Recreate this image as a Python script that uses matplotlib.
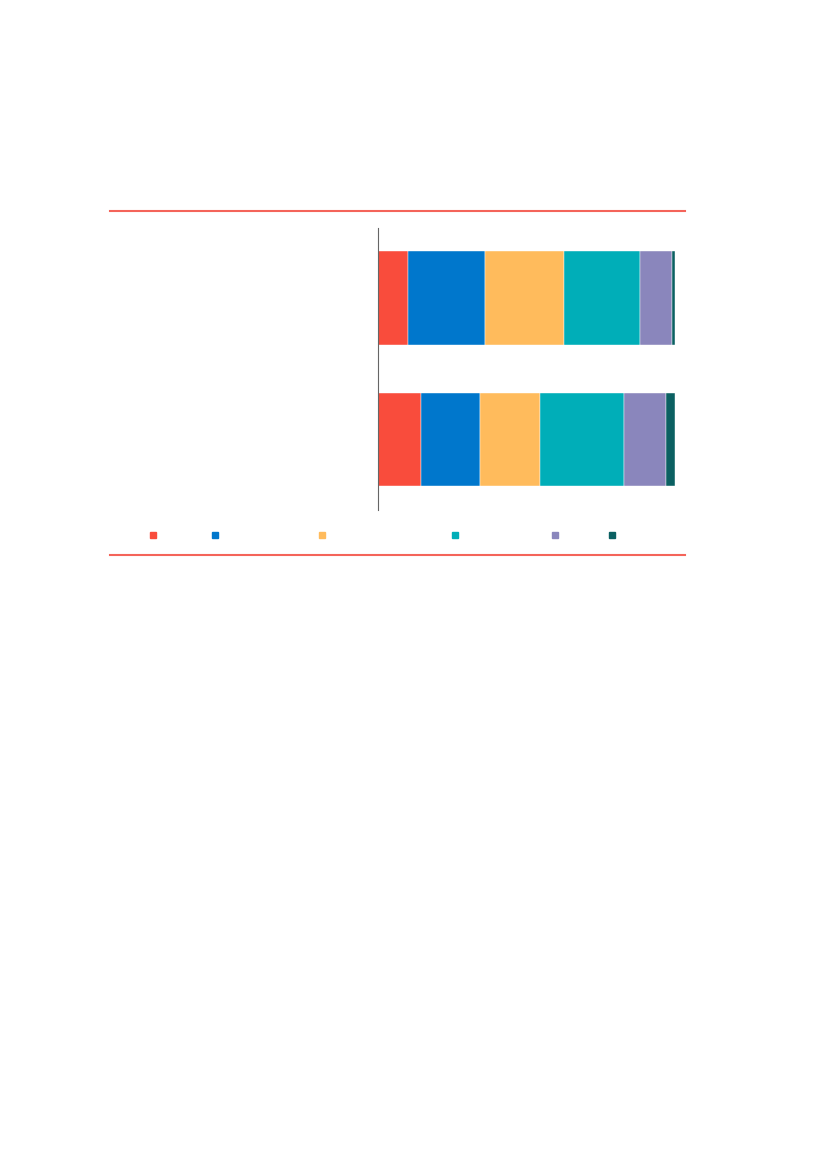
import matplotlib.pyplot as plt
from matplotlib.patches import Rectangle
from matplotlib.lines import Line2D

# no readable text in the reference, so the labels stay hidden
groups = ['A', 'B']
series = ['s1', 's2', 's3', 's4', 's5', 's6']
colors = ['#F94C3C', '#0077CC', '#FFBB5C', '#00AEB8', '#8A86BC', '#0B6062']
values = [
    [10.2, 14.6],
    [25.9, 19.7],
    [26.5, 20.3],
    [25.7, 28.3],
    [10.6, 14.2],
    [1.1, 2.9],
]

W, H = 827, 1169
fig = plt.figure(figsize=(W / 100, H / 100), dpi=100)

ax = fig.add_axes([378 / W, 1 - 510 / H, 297 / W, 282 / H])
left = [0] * len(groups)
for vals, c in zip(values, colors):
    ax.barh(range(len(groups)), vals, left=left, height=0.655, color=c,
            edgecolor='white', linewidth=0.3)
    left = [l + v for l, v in zip(left, vals)]

ax.set_xlim(0, 100)
ax.set_ylim(1.493, -0.493)
for s in ['top', 'right', 'bottom']:
    ax.spines[s].set_visible(False)
ax.spines['left'].set_color('#666666')
ax.spines['left'].set_linewidth(0.8)
ax.set_xticks([])
ax.set_yticks([])

# red rules above and below the chart
for y in [211, 555]:
    fig.add_artist(Line2D([110 / W, 685 / W], [1 - y / H, 1 - y / H],
                          color='#F4645A', linewidth=1.5))

# legend squares (labels are not visible in the reference)
legend_x = [153, 215, 322, 455, 555, 612]
for x, c in zip(legend_x, colors):
    fig.add_artist(Rectangle((x / W - 3 / W, 1 - 538 / H), 6 / W, 6 / H,
                             color=c, transform=fig.transFigure))

fig.savefig('out.png', dpi=100, facecolor='white')
